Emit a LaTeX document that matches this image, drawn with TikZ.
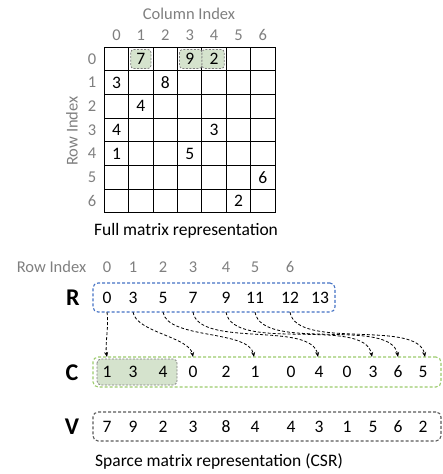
\documentclass[tikz,border=0pt]{standalone}
\usepackage{fontspec}
\setmainfont{Carlito}
\usetikzlibrary{arrows.meta}

\definecolor{idxgray}{HTML}{7F7F7F}
\definecolor{rblue}{HTML}{4472C4}
\definecolor{cgreen}{HTML}{9BCB6C}
\definecolor{hlfill}{HTML}{D5E3CD}
\definecolor{vgray}{HTML}{595959}

\tikzset{
  idx/.style={text=idxgray,font=\fontsize{16.5}{19}\selectfont,inner sep=0pt},
  num/.style={font=\fontsize{17.5}{20}\selectfont,inner sep=0pt},
  entry/.style={num,minimum height=29},
  caption/.style={font=\fontsize{17.5}{20}\selectfont,inner sep=0pt},
  arrname/.style={font=\bfseries\fontsize{24}{27}\selectfont,inner sep=0pt},
  gridline/.style={line width=1pt},
  hl/.style={fill=hlfill,draw=idxgray,dashed,dash pattern=on 2pt off 1.5pt,rounded corners=3pt,line width=0.8pt},
  arrbox/.style={draw,dashed,dash pattern=on 3pt off 2pt,rounded corners=5pt,line width=1.1pt,inner sep=0pt},
  ptr/.style={dashed,dash pattern=on 3pt off 2pt,line width=0.8pt,-{Stealth[length=5pt,width=4pt]}}
}

\begin{document}
\begin{tikzpicture}[x=1pt,y=-1pt]
\useasboundingbox (0,0) rectangle (443,474);

% full matrix
\foreach \i in {0,...,7} {
  \draw[gridline] ({104.3+24.4*\i},47) -- ({104.3+24.4*\i},213);
  \draw[gridline] (104.3,{47+23.7*\i}) -- (275.1,{47+23.7*\i});
}
\draw[hl] (130.7,49.5) rectangle (151,68.5);
\draw[hl] (179.5,49.5) rectangle (202,68.5);
\draw[hl] (202,49.5) rectangle (224.3,68.5);
\foreach \i in {0,...,6} {
  \node[idx] (ci\i) at ({116.5+24.4*\i},35) {\i};
  \node[idx] (ri\i) at (92,{58.85+23.7*\i}) {\i};
}
\foreach \r/\c/\v in {0/1/7,0/3/9,0/4/2,1/0/3,1/2/8,2/1/4,3/0/4,3/4/3,4/0/1,4/3/5,5/6/6,6/5/2}
  \node[num] (m\r\c) at ({116.5+24.4*\c},{58.85+23.7*\r}) {\v};
\node[idx] (colidx) at (189,14) {Column Index};
\node[idx,rotate=90] (rowidx) at (72,131) {Row Index};
\node[caption] (fullcap) at (186,231) {Full matrix representation};

% CSR arrays
\node[idx] (rowidx2) at (51.5,267) {Row Index};
\foreach \i/\x in {0/107,1/133,2/163,3/193,4/226,5/255,6/290}
  \node[idx] (ri2\i) at (\x,267) {\i};

\node[arrbox,draw=rblue,minimum width=242,minimum height=29] (rbox) at (214,297.5) {};
\node[arrname] (rname) at (73,298) {R};
\foreach \i/\x/\v in {0/107/0,1/133/3,2/163/5,3/193/7,4/226/9,5/255/11,6/290/12,7/320/13}
  \node[entry] (r\i) at (\x,297.5) {\v};

\node[arrbox,draw=cgreen,minimum width=348,minimum height=30] (cbox) at (267,372) {};
\draw[hl,rounded corners=4pt] (97,359) rectangle (177,385);
\node[arrname] (cname) at (72,373) {C};
\foreach \i/\x/\v in {0/107/1,1/133/3,2/163/4,3/193/0,4/226/2,5/255/1,6/291/0,7/319/4,8/347/0,9/373/3,10/398/6,11/423/5}
  \node[entry] (c\i) at (\x,372) {\v};

\node[arrbox,draw=vgray,minimum width=348,minimum height=29] (vbox) at (267,426.5) {};
\node[arrname] (vname) at (72,427) {V};
\foreach \i/\x/\v in {0/107/7,1/133/9,2/163/2,3/193/3,4/226/8,5/255/4,6/291/4,7/319/3,8/347/1,9/373/5,10/398/6,11/423/2}
  \node[entry] (v\i) at (\x,426.5) {\v};

\node[caption] (csrcap) at (219,462) {Sparce matrix representation (CSR)};

% row pointers
\foreach \i/\x in {0/107,1/193,2/254,3/318,4/372,5/398,6/425}
  \coordinate (a\i) at (\x,357);
\foreach \i in {0,...,6}
  \draw[ptr] (r\i.south) to[out=-80,in=100,looseness=0.7] (a\i);
\end{tikzpicture}
\end{document}
